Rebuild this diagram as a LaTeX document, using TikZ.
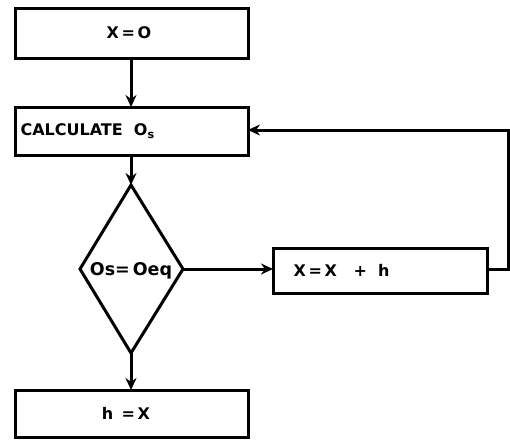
\documentclass[tikz,border=0pt]{standalone}
\usepackage{fontspec}
\setmainfont{DejaVu Sans}
\usetikzlibrary{arrows.meta}
\begin{document}
\begin{tikzpicture}[x=1pt,y=-1pt,
  box/.style={draw,line width=3pt,inner sep=0pt},
  big/.style={font=\fontsize{16}{18}\selectfont\bfseries},
  conn/.style={line width=3pt},
  arr/.style={conn,-{Stealth[length=12pt,width=11pt]}}]
\useasboundingbox (0,0) rectangle (510,439);
% boxes
\draw[box] (15,8) rectangle (248,58);
\node[big] (b1) at (129,33) {X\,=\,O};
\coordinate (b1s) at (131,58);
\draw[box] (15,107) rectangle (248,155);
\node[big,anchor=west] (b2) at (17,131) {CALCULATE\ \ O$_{\mathbf s}$};
\coordinate (b2n) at (131,107);
\coordinate (b2s) at (131,155);
\coordinate (b2e) at (248,130);
% diamond
\draw[conn,line join=miter] (131,185) -- (183,269) -- (131,353) -- (80,269) -- cycle;
\coordinate (dn) at (131,185);
\coordinate (de) at (183,269);
\coordinate (ds) at (131,353);
\node[font=\fontsize{17.5}{18}\selectfont\bfseries,inner sep=0pt] (d) at (131,271) {Os=\,Oeq};
% box 3
\draw[box] (273,248) rectangle (487,293);
\node[big,anchor=west] (b3) at (290,270) {X\,=\,X\ \ \ +\ \ h};
\coordinate (b3w) at (273,269);
\coordinate (b3e) at (487,269);
% box 4
\draw[box] (15,390) rectangle (248,437);
\node[big] (b4) at (126,413) {h\ \,=\,X};
\coordinate (b4n) at (131,390);
% corners of the loop
\coordinate (c1) at (508,269);
\coordinate (c2) at (508,130);
% connectors
\draw[arr] (b1s) -- (b2n);
\draw[arr] (b2s) -- (dn);
\draw[arr] (de) -- (b3w);
\draw[arr] (ds) -- (b4n);
\draw[arr] (b3e) -- (c1) -- (c2) -- (b2e);
\end{tikzpicture}
\end{document}
